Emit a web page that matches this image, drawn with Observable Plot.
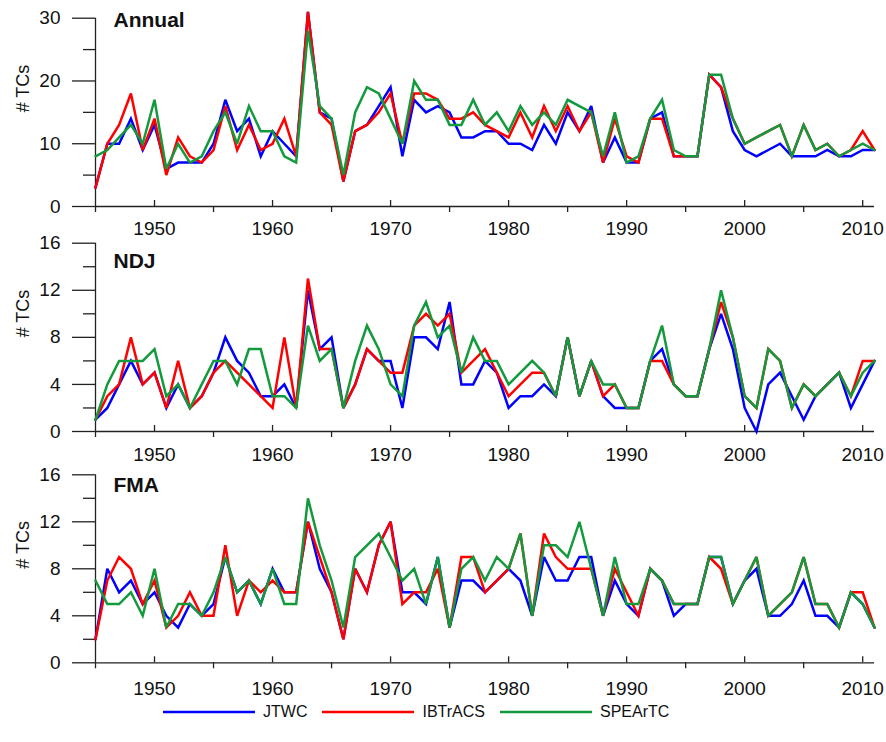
<!DOCTYPE html>
<html>
<head>
<meta charset="utf-8">
<script src="https://cdn.jsdelivr.net/npm/d3@7"></script>
<script src="https://cdn.jsdelivr.net/npm/@observablehq/plot@0.6"></script>
<style>
  body { margin: 0; background: #fff; }
  #chart { position: relative; width: 886px; height: 742px; background: #fff;
           font-family: "Liberation Sans", Arial, Helvetica, sans-serif; }
  #chart > svg { position: absolute; left: 0; }
  .legend { position: absolute; left: 163px; top: 703px; display: flex; align-items: center;
            font-size: 16px; line-height: 18px; color: #111; }
  .legend .item { display: flex; align-items: center; margin-right: 15px; }
  .legend svg { display: block; margin-right: 8px; }
</style>
</head>
<body>
<div id="chart"></div>
<script>
// ---- data ----
const years = [1945,1946,1947,1948,1949,1950,1951,1952,1953,1954,
               1955,1956,1957,1958,1959,1960,1961,1962,1963,1964,
               1965,1966,1967,1968,1969,1970,1971,1972,1973,1974,
               1975,1976,1977,1978,1979,1980,1981,1982,1983,1984,
               1985,1986,1987,1988,1989,1990,1991,1992,1993,1994,
               1995,1996,1997,1998,1999,2000,2001,2002,2003,2004,
               2005,2006,2007,2008,2009,2010,2011];
const series = ["JTWC", "IBTrACS", "SPEArTC"];
const seriesColors = ["#0000ff", "#ff0000", "#139a3c"];

const annualJTWC = [3,10,10,14,9,13,6,7,7,7, 10,17,12,14,8,12,10,8,31,15, 14,4,12,13,16,19,8,17,15,16,
                    15,11,11,12,12,10,10,9,13,10, 15,12,16,7,11,7,7,14,15,8, 8,8,21,19,12,9,8,9,10,8, 8,8,9,8,8,9,9];
const annualIBTrACS = [3,10,13,18,9,14,5,11,8,7, 9,16,9,13,9,10,14,8,31,15, 13,4,12,13,15,18,10,18,18,17,
                       14,14,15,13,12,11,15,11,16,12, 16,12,15,7,14,8,7,14,14,8, 8,8,21,19,14,10,11,12,13,8, 13,9,10,8,9,12,9];
const annualSPEArTC = [8,9,11,13,10,17,6,10,7,8, 12,15,10,16,12,12,8,7,28,16, 14,5,15,19,18,14,10,20,17,17,
                       13,13,17,13,15,12,16,13,15,13, 17,16,15,8,15,7,8,14,17,9, 8,8,21,21,14,10,11,12,13,8, 13,9,10,8,9,10,9];

const ndjJTWC = [1,2,4,6,4,5,2,4,2,3, 5,8,6,5,3,3,4,2,12,7, 8,2,4,7,6,6,2,8,8,7,
                 11,4,4,6,5,2,3,3,4,3, 8,3,6,3,2,2,2,6,7,4, 3,3,7,10,7,2,0,4,5,3, 1,3,4,5,2,4,6];
const ndjIBTrACS = [1,3,4,8,4,5,2,6,2,3, 5,6,5,4,3,2,8,2,13,7, 7,2,4,7,6,5,5,9,10,9,
                    10,5,6,7,5,3,4,5,5,3, 8,3,6,3,4,2,2,6,6,4, 3,3,7,11,8,3,2,7,6,2, 4,3,4,5,3,6,6];
const ndjSPEArTC = [1,4,6,6,6,7,3,4,2,4, 6,6,4,7,7,3,3,2,9,6, 7,2,6,9,7,4,3,9,11,8,
                    9,5,8,6,6,4,5,6,5,3, 8,3,6,4,4,2,2,6,9,4, 3,3,7,12,8,3,2,7,6,2, 4,3,4,5,3,5,6];

const fmaJTWC = [2,8,6,7,5,6,4,3,5,4, 5,9,6,7,5,8,6,6,12,8, 6,2,8,6,10,12,6,6,5,9,
                 3,7,7,6,7,8,7,4,9,7, 7,9,9,4,7,5,4,8,7,4, 5,5,9,9,5,7,8,4,4,5, 7,4,4,3,6,5,3];
const fmaIBTrACS = [2,7,9,8,5,7,3,4,6,4, 4,10,4,7,6,7,6,6,12,9, 6,2,8,6,10,12,5,6,6,8,
                    3,9,9,6,7,8,11,4,11,9, 8,8,8,4,8,6,4,8,7,5, 5,5,9,8,5,7,9,4,5,6, 9,5,5,3,6,6,3];
const fmaSPEArTC = [7,5,5,6,4,8,3,5,5,4, 6,9,6,7,5,8,5,5,14,10, 7,3,9,10,11,9,7,8,5,9,
                    3,8,9,7,9,8,11,4,10,10, 9,12,8,4,9,5,5,8,7,5, 5,5,9,9,5,7,9,4,5,6, 9,5,5,3,6,5,3];

const decadeTicks = [1950,1960,1970,1980,1990,2000,2010];
const halfDecadeTicks = [1945,1955,1965,1975,1985,1995,2005];
const annualMajor = [0,10,20,30], annualMinor = [5,15,25];
const seasonMajor = [0,4,8,12,16], seasonMinor = [2,6,10,14];
const yLabel = "# TCs";

// ---- drawing ----
const chart = document.getElementById("chart");
const axisColor = "#222";
const fontFamily = '"Liberation Sans", Arial, Helvetica, sans-serif';

function panel(cfg) {
  const rows = [];
  cfg.values.forEach((arr, si) => arr.forEach((v, i) => rows.push({year: years[i], value: v, series: series[si]})));
  const W = 886, mL = 95, mR = 12;
  const plotW = W - mL - mR;
  const plotH = cfg.height - cfg.mTop - cfg.mBottom;
  const svg = Plot.plot({
    width: W, height: cfg.height,
    marginLeft: mL, marginRight: mR, marginTop: cfg.mTop, marginBottom: cfg.mBottom,
    style: {fontFamily, fontSize: "19px", color: "#111", background: "transparent", overflow: "visible"},
    x: {domain: [1945, 2011]},
    y: {domain: [0, cfg.yMax]},
    color: {domain: series, range: seriesColors},
    marks: [
      Plot.ruleX([1945], {stroke: axisColor, strokeWidth: 1.3}),
      Plot.ruleY([0], {stroke: axisColor, strokeWidth: 1.3}),
      Plot.axisY(cfg.major, {tickSize: 23, tickPadding: 12, fontSize: 19, stroke: axisColor, strokeWidth: 1.3,
                             tickFormat: d => String(d), label: null}),
      Plot.tickY(cfg.minor, {y: d => d, insetLeft: -12, insetRight: plotW, stroke: axisColor, strokeWidth: 1.3}),
      Plot.tickX(decadeTicks, {x: d => d, insetTop: plotH - 6, stroke: axisColor, strokeWidth: 1.3}),
      Plot.tickX(halfDecadeTicks, {x: d => d, insetTop: plotH, insetBottom: -6, stroke: axisColor, strokeWidth: 1.3}),
      Plot.axisX(decadeTicks, {tickSize: 0, tickPadding: cfg.labelPad, fontSize: 19, tickFormat: d => String(d), label: null}),
      Plot.text([yLabel], {text: d => d, frameAnchor: "left", rotate: -90, dx: -72, fontSize: 18, fill: "#111"}),
      Plot.text([cfg.title], {text: d => d, frameAnchor: "top-left", textAnchor: "start", lineAnchor: "middle",
                              dx: 18, dy: cfg.titleDy, fontSize: 21, fontWeight: "bold", fill: "#111"}),
      Plot.line(rows, {x: "year", y: "value", z: "series", stroke: "series", strokeWidth: 2.5,
                       strokeLinejoin: "miter", strokeMiterlimit: 3})
    ]
  });
  svg.style.top = cfg.top + "px";
  chart.appendChild(svg);
}

panel({values: [annualJTWC, annualIBTrACS, annualSPEArTC], yMax: 30, major: annualMajor, minor: annualMinor,
       title: "Annual", titleDy: 2, top: 0, height: 238, mTop: 17.7, mBottom: 32, labelPad: 15});
panel({values: [ndjJTWC, ndjIBTrACS, ndjSPEArTC], yMax: 16, major: seasonMajor, minor: seasonMinor,
       title: "NDJ", titleDy: 18, top: 238, height: 232, mTop: 4.7, mBottom: 39, labelPad: 16});
panel({values: [fmaJTWC, fmaIBTrACS, fmaSPEArTC], yMax: 16, major: seasonMajor, minor: seasonMinor,
       title: "FMA", titleDy: 10, top: 470, height: 232, mTop: 4.3, mBottom: 39.7, labelPad: 19});

// legend
const legend = document.createElement("div");
legend.className = "legend";
series.forEach((s, i) => {
  const item = document.createElement("div");
  item.className = "item";
  item.innerHTML = `<svg width="92" height="6"><line x1="0" x2="92" y1="3" y2="3" stroke="${seriesColors[i]}" stroke-width="2.5"/></svg><span>${s}</span>`;
  legend.appendChild(item);
});
chart.appendChild(legend);
</script>
</body>
</html>
